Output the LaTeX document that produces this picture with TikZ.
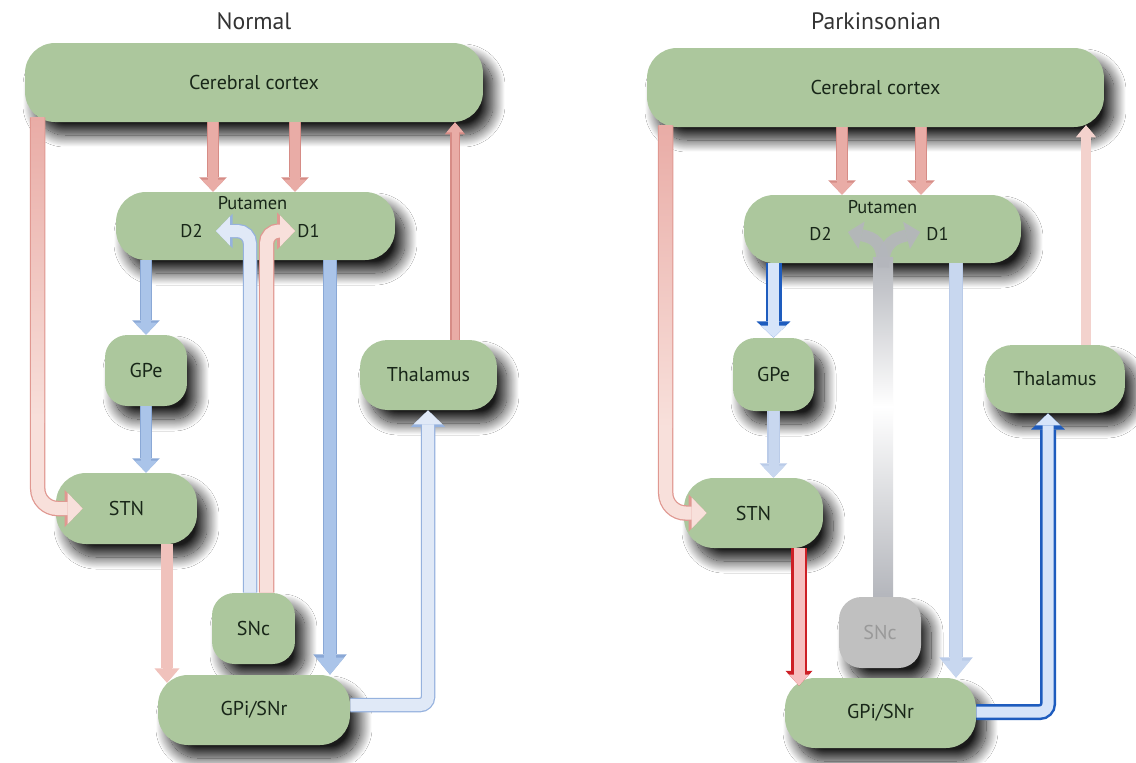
\documentclass[tikz,border=0pt]{standalone}
\usepackage{fontspec}
\setmainfont{PT Sans}
\usetikzlibrary{arrows.meta}
\usetikzlibrary{calc}
\usetikzlibrary{shadows.blur}

\definecolor{nucleus}{RGB}{172,199,157}
\definecolor{nucleustext}{RGB}{24,38,24}
\definecolor{glu}{RGB}{233,172,166}
\definecolor{gluedge}{RGB}{214,140,134}
\definecolor{glulight}{RGB}{240,194,188}
\definecolor{glupale}{RGB}{248,224,219}
\definecolor{glupaleedge}{RGB}{224,152,145}
\definecolor{glufaint}{RGB}{243,210,205}
\definecolor{glustrong}{RGB}{246,192,192}
\definecolor{glustrongedge}{RGB}{205,32,38}
\definecolor{gaba}{RGB}{170,196,233}
\definecolor{gabaedge}{RGB}{138,168,214}
\definecolor{gabapale}{RGB}{224,233,247}
\definecolor{gabapaleedge}{RGB}{150,178,222}
\definecolor{gabafaint}{RGB}{200,215,239}
\definecolor{gabafaintedge}{RGB}{186,203,232}
\definecolor{gabastrong}{RGB}{214,228,249}
\definecolor{gabastrongedge}{RGB}{30,92,190}
\definecolor{dopalost}{RGB}{180,182,188}
\definecolor{snclost}{RGB}{192,192,192}

\begin{document}
\begin{tikzpicture}
		[x=0.02cm, y=-0.02cm,
		region/.style={fill=nucleus, text=nucleustext, rounded corners=0.6cm, inner sep=0pt,
			font=\fontsize{11.4}{13}\selectfont,
			blur shadow={shadow xshift=0.2cm, shadow yshift=-0.26cm, shadow blur radius=0.24cm,
				shadow blur steps=30, shadow opacity=90}},
		tag/.style={text=nucleustext, inner sep=0pt, font=\fontsize{10.5}{12}\selectfont},
		heading/.style={text=black!80, font=\fontsize{13.5}{16}\selectfont},
		flow/.style n args={5}{draw=#1, line width=#3,
			-{Triangle[width=#4, length=#5, line width=0pt]},
			preaction={draw=#2, line width=#3+0.05cm,
				-{Triangle[width=#4, length=#5, line width=0pt, scale=1.2]}}},
		boldflow/.style n args={5}{draw=#1, line width=#3,
			-{Triangle[width=#4, length=#5, line width=0pt]},
			preaction={draw=#2, line width=#3+0.1cm,
				-{Triangle[width=#4, length=#5, line width=0pt, scale=1.35]}}},
		gluflow/.style={flow={glu}{gluedge}{0.2cm}{0.46cm}{0.24cm}},
		lightglu/.style={flow={glulight}{glulight}{0.18cm}{0.42cm}{0.24cm}},
		thinglu/.style={flow={glu}{gluedge}{0.14cm}{0.34cm}{0.2cm}},
		paleglu/.style={flow={glupale}{glupaleedge}{0.26cm}{0.62cm}{0.3cm}},
		faintglu/.style={flow={glufaint}{glufaint}{0.14cm}{0.34cm}{0.2cm}},
		boldglu/.style={boldflow={glustrong}{glustrongedge}{0.22cm}{0.4cm}{0.22cm}},
		gabaflow/.style={flow={gaba}{gabaedge}{0.2cm}{0.46cm}{0.24cm}},
		widegaba/.style={flow={gaba}{gabaedge}{0.24cm}{0.56cm}{0.34cm}},
		palegaba/.style={flow={gabapale}{gabapaleedge}{0.24cm}{0.58cm}{0.28cm}},
		faintgaba/.style={flow={gabafaint}{gabafaintedge}{0.2cm}{0.46cm}{0.24cm}},
		widefaintgaba/.style={flow={gabafaint}{gabafaintedge}{0.24cm}{0.56cm}{0.34cm}},
		boldgaba/.style={boldflow={gabastrong}{gabastrongedge}{0.22cm}{0.5cm}{0.24cm}},
		lostflow/.style={draw=dopalost, line width=0.24cm, opacity=0.9,
			-{Triangle[width=0.56cm, length=0.28cm, line width=0pt]}}]
		\useasboundingbox[fill=white] (0,0) rectangle (1136,762);

		% left panel
		\node[heading] (titleN) at (254,21) {Normal};
		\node[region, minimum width=9.16cm, minimum height=1.58cm] (cortexN) at (254,82.5) {Cerebral cortex};
		\node[region, minimum width=5.58cm, minimum height=1.36cm] (putamenN) at (255.5,226) {};
		\node[tag] (putlabelN) at ($(putamenN)+(-3,-23)$) {Putamen};
		\node[tag] (d2N) at ($(putamenN)+(-64,5)$) {D2};
		\node[tag] (d1N) at ($(putamenN)+(53,5)$) {D1};
		\node[region, rounded corners=0.45cm, minimum width=1.64cm, minimum height=1.42cm] (gpeN) at (146,370.5) {GPe};
		\node[region, rounded corners=0.55cm, minimum width=2.74cm, minimum height=1.4cm] (thalN) at (428.5,375) {Thalamus};
		\node[region, minimum width=2.82cm, minimum height=1.42cm] (stnN) at (126.5,508.5) {STN};
		\node[region, rounded corners=0.45cm, minimum width=1.66cm, minimum height=1.42cm] (sncN) at (253.5,628.5) {SNc};
		\node[region, minimum width=3.84cm, minimum height=1.4cm] (gpiN) at (254,710) {GPi/SNr};

		\draw[gluflow] (cortexN.south -| 213,0) -- (putamenN.north -| 213,0);
		\draw[gluflow] (cortexN.south -| 295,0) -- (putamenN.north -| 295,0);
		\draw[thinglu] (thalN.north -| 455,0) -- (cortexN.south -| 455,0);
		\draw[gabaflow] (putamenN.south -| gpeN.north) -- (gpeN.north);
		\draw[gabaflow] (gpeN.south) -- (stnN.north -| gpeN.south);
		\draw[widegaba] (putamenN.south -| 330,0) -- (gpiN.north -| 330,0);
		\draw[lightglu] (stnN.south -| 167,0) -- ($(gpiN.north -| 167,0)+(0,8)$);
		\draw[palegaba, rounded corners=0.16cm] (gpiN.east |- 0,705) -| (thalN.south -| 428,0);
		\draw[paleglu, rounded corners=0.4cm] ($(cortexN.south west)+(13,-5)$) |- ($(stnN.west)+(27,0)$);
		\shade[top color=glu, bottom color=glupale] ($(cortexN.south west)+(6.5,-5)$) rectangle ($(cortexN.south west)+(19.5,300)$);
		\draw[palegaba, rounded corners=0.25cm] ($(sncN.north)+(-3.5,0)$) |- ($(d2N.east)+(13,0)$);
		\draw[paleglu, rounded corners=0.25cm] ($(sncN.north)+(13,0)$) |- ($(d1N.west)+(-2,0)$);

		% right panel
		\node[heading] (titleP) at (876,21) {Parkinsonian};
		\node[region, minimum width=9.14cm, minimum height=1.58cm] (cortexP) at (875.5,87.5) {Cerebral cortex};
		\node[region, minimum width=5.54cm, minimum height=1.36cm] (putamenP) at (882.5,229) {};
		\node[tag] (putlabelP) at ($(putamenP)+(0,-22)$) {Putamen};
		\node[tag] (d2P) at ($(putamenP)+(-62,5)$) {D2};
		\node[tag] (d1P) at ($(putamenP)+(55,5)$) {D1};
		\node[region, rounded corners=0.45cm, minimum width=1.62cm, minimum height=1.46cm] (gpeP) at (773.5,374.5) {GPe};
		\node[region, rounded corners=0.55cm, minimum width=2.8cm, minimum height=1.36cm] (thalP) at (1055,379) {Thalamus};
		\node[region, minimum width=2.78cm, minimum height=1.4cm] (stnP) at (753.5,513) {STN};
		\node[region, rounded corners=0.45cm, fill=snclost, text=black!40, minimum width=1.64cm, minimum height=1.42cm] (sncP) at (880,632.5) {SNc};
		\node[region, minimum width=3.82cm, minimum height=1.4cm] (gpiP) at (880.5,713) {GPi/SNr};

		\draw[gluflow] (cortexP.south -| 842,0) -- (putamenP.north -| 842,0);
		\draw[gluflow] (cortexP.south -| 921,0) -- (putamenP.north -| 921,0);
		\draw[faintglu] (thalP.north -| 1086,0) -- ($(cortexP.south -| 1086,0)+(0,-2)$);
		\draw[boldgaba] (putamenP.south -| gpeP.north) -- (gpeP.north);
		\draw[faintgaba] (gpeP.south) -- (stnP.north -| gpeP.south);
		\draw[widefaintgaba] (putamenP.south -| 956,0) -- (gpiP.north -| 956,0);
		\draw[boldglu] (stnP.south -| 799,0) -- ($(gpiP.north -| 799,0)+(0,8)$);
		\draw[boldgaba, rounded corners=0.16cm] (gpiP.east |- 0,712) -| (thalP.south -| 1048,0);
		\draw[paleglu, rounded corners=0.4cm] ($(cortexP.south west)+(19,-2)$) |- ($(stnP.west)+(23,0)$);
		\shade[top color=glu, bottom color=glupale] ($(cortexP.south west)+(12.5,-2)$) rectangle ($(cortexP.south west)+(25.5,300)$);
		% fading dopamine stem and its two branches
		\shade[top color=dopalost, bottom color=white] ($(putamenP.south -| sncP.north)+(-7,-6)$) rectangle ($(sncP.north)+(13,-190)$);
		\shade[top color=white, bottom color=dopalost] ($(sncP.north)+(-7,-190)$) rectangle ($(sncP.north)+(13,0)$);
		\draw[lostflow] ($(putamenP.south -| sncP.north)+(3,4)$) .. controls ($(putamenP.south -| sncP.north)+(3,-22)$) and ($(d2P.east)+(42,4)$) .. ($(d2P.east)+(16,-2)$);
		\draw[lostflow] ($(putamenP.south -| sncP.north)+(3,4)$) .. controls ($(putamenP.south -| sncP.north)+(3,-22)$) and ($(d1P.west)+(-30,4)$) .. ($(d1P.west)+(-6,-2)$);
	\end{tikzpicture}
\end{document}
